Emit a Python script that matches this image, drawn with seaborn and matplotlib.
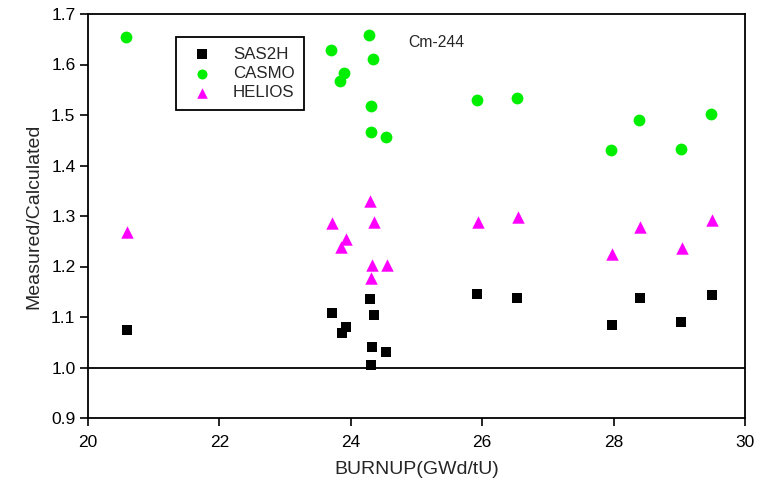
import matplotlib
matplotlib.use("Agg")
import matplotlib.pyplot as plt
import seaborn as sns
import pandas as pd
from matplotlib.ticker import FormatStrFormatter

# ---- data ----
sas2h_x = [20.60, 23.72, 23.87, 23.93, 24.29, 24.36, 24.32, 24.54, 24.31, 25.92, 26.53, 27.98, 28.40, 29.02, 29.50]
sas2h_y = [1.075, 1.108, 1.068, 1.080, 1.135, 1.104, 1.040, 1.030, 1.004, 1.146, 1.137, 1.085, 1.138, 1.090, 1.143]

casmo_x = [20.58, 23.70, 23.84, 23.90, 24.28, 24.34, 24.31, 24.31, 24.54, 25.92, 26.53, 27.96, 28.38, 29.02, 29.49]
casmo_y = [1.654, 1.629, 1.567, 1.583, 1.658, 1.610, 1.518, 1.467, 1.456, 1.529, 1.533, 1.430, 1.491, 1.432, 1.501]

helios_x = [20.60, 23.72, 23.85, 23.92, 24.29, 24.35, 24.32, 24.55, 24.31, 25.93, 26.54, 27.98, 28.40, 29.04, 29.50]
helios_y = [1.268, 1.287, 1.238, 1.254, 1.330, 1.289, 1.203, 1.203, 1.177, 1.289, 1.299, 1.224, 1.279, 1.236, 1.293]

x_ticks = [20, 22, 24, 26, 28, 30]
y_ticks = [0.9, 1.0, 1.1, 1.2, 1.3, 1.4, 1.5, 1.6, 1.7]
reference_line = 1.0
annotation = "Cm-244"

sns.set_style("white")
plt.rcParams['font.family'] = ['Liberation Sans', 'DejaVu Sans']

fig = plt.figure(figsize=(7.65, 4.84), dpi=100)
ax = fig.add_axes([88/765, 1-418/484, (745-88)/765, (418-14)/484])

df_s = pd.DataFrame({"x": sas2h_x, "y": sas2h_y})
df_c = pd.DataFrame({"x": casmo_x, "y": casmo_y})
df_h = pd.DataFrame({"x": helios_x, "y": helios_y})

sns.scatterplot(data=df_s, x="x", y="y", ax=ax, marker="s", color="black",
                s=60, linewidth=0, label="SAS2H", zorder=3)
sns.scatterplot(data=df_c, x="x", y="y", ax=ax, marker="o", color="#00ee00",
                s=72, linewidth=0, label="CASMO", zorder=3)
sns.scatterplot(data=df_h, x="x", y="y", ax=ax, marker="^", color="#ff00ff",
                s=80, linewidth=0, label="HELIOS", zorder=3)

ax.axhline(reference_line, color="black", lw=1.3, zorder=2)

ax.set_xlim(x_ticks[0], x_ticks[-1])
ax.set_ylim(y_ticks[0], y_ticks[-1])
ax.set_xticks(x_ticks)
ax.set_yticks(y_ticks)
ax.yaxis.set_major_formatter(FormatStrFormatter('%.1f'))
ax.tick_params(axis='both', which='major', direction='out', length=6, width=1.2,
               labelsize=12.5, colors='black', bottom=True, left=True, top=False, right=False)
ax.tick_params(axis='x', pad=6)
ax.tick_params(axis='y', pad=3)
for sp in ax.spines.values():
    sp.set_visible(True)
    sp.set_color('black')
    sp.set_linewidth(1.3)

ax.set_xlabel("BURNUP(GWd/tU)", fontsize=14, labelpad=8)
ax.set_ylabel("Measured/Calculated", fontsize=14, labelpad=6)

ax.text(24.87, 1.643, annotation, fontsize=11.3, va='center', ha='left')

leg = ax.legend(loc='upper left', bbox_to_anchor=(0.134, 0.942), borderaxespad=0,
                fancybox=False, frameon=True, edgecolor='black', framealpha=1,
                fontsize=12.2, handletextpad=0.8, labelspacing=0.25,
                borderpad=0.55, handlelength=2.0, markerscale=0.85)
leg.get_frame().set_linewidth(1.3)

fig.savefig("out.png", dpi=100)
